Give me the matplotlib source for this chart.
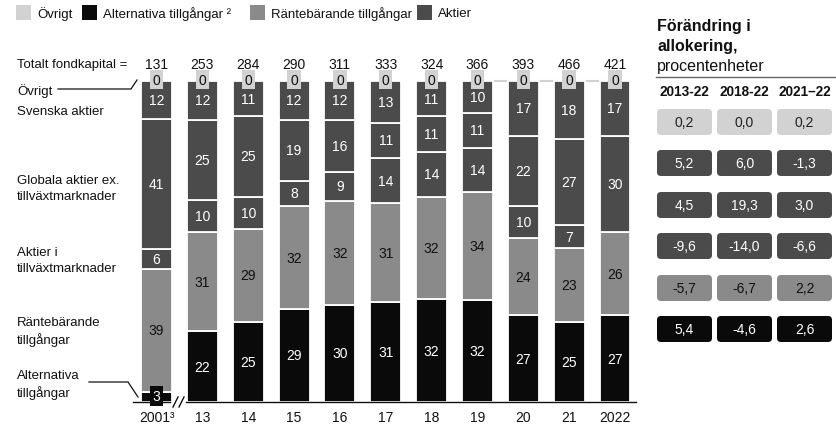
import matplotlib
matplotlib.use('Agg')
import matplotlib.pyplot as plt
from matplotlib.patches import FancyBboxPatch, Rectangle
import numpy as np

plt.rcParams['font.family'] = ['Liberation Sans', 'DejaVu Sans']

# ---------------- data ----------------
years = ['2001³', '13', '14', '15', '16', '17', '18', '19', '20', '21', '2022']
totals = [131, 253, 284, 290, 311, 333, 324, 366, 393, 466, 421]
alternativa = [3, 22, 25, 29, 30, 31, 32, 32, 27, 25, 27]
rantebarande = [39, 31, 29, 32, 32, 31, 32, 34, 24, 23, 26]
tillvaxt = [6, 10, 10, 8, 9, 14, 14, 14, 10, 7, 0]
globala = [41, 25, 25, 19, 16, 11, 11, 11, 22, 27, 30]
svenska = [12, 12, 11, 12, 12, 13, 11, 10, 17, 18, 17]
ovrigt = [0, 0, 0, 0, 0, 0, 0, 0, 0, 0, 0]

legend_labels = ['Övrigt', 'Alternativa tillgångar ²', 'Räntebärande tillgångar', 'Aktier']
left_labels = ['Övrigt', 'Svenska aktier', 'Globala aktier ex.\ntillväxtmarknader',
               'Aktier i\ntillväxtmarknader', 'Räntebärande\ntillgångar',
               'Alternativa\ntillgångar']

table_title = ['Förändring i', 'allokering,']
table_subtitle = 'procentenheter'
table_cols = ['2013-22', '2018-22', '2021–22']
chg_ovrigt = ['0,2', '0,0', '0,2']
chg_svenska = ['5,2', '6,0', '-1,3']
chg_globala = ['4,5', '19,3', '3,0']
chg_tillvaxt = ['-9,6', '-14,0', '-6,6']
chg_ranta = ['-5,7', '-6,7', '2,2']
chg_alt = ['5,4', '-4,6', '2,6']

# ---------------- styles ----------------
C_LIGHT = '#d2d2d2'
C_BLACK = '#0a0a0a'
C_GRAY = '#8a8a8a'
C_DARK = '#4b4b4b'
TXT = '#111111'
FS = 9.5

W, H = 836, 427
fig = plt.figure(figsize=(W / 100, H / 100), dpi=100)

# main bar axes (pixel placement)
px_left, px_right, px_top, px_base = 130, 640, 55, 403
x0px, dxpx = 156.5, 45.85
ypp = 3.21
ax = fig.add_axes([px_left / W, (H - px_base) / H, (px_right - px_left) / W, (px_base - px_top) / H])
ax.set_xlim((px_left - x0px) / dxpx, (px_right - x0px) / dxpx)
ax.set_ylim(0, (px_base - px_top) / ypp)
for s in ax.spines.values():
    s.set_visible(False)
ax.set_yticks([])
ax.set_xticks(range(len(years)), years)
ax.tick_params(axis='x', length=0, pad=6, labelsize=10, labelcolor=TXT)

x = np.arange(len(years))
series = [
    (alternativa, C_BLACK, 'white'),
    (rantebarande, C_GRAY, TXT),
    (tillvaxt, C_DARK, 'white'),
    (globala, C_DARK, 'white'),
    (svenska, C_DARK, 'white'),
]
sums = (np.array(alternativa) + np.array(rantebarande) + np.array(tillvaxt)
        + np.array(globala) + np.array(svenska) + np.array(ovrigt))
scale = 100.0 / sums
bw = 0.676

# connecting light line on top (later years)
ax.plot([7, 10], [100, 100], color=C_LIGHT, lw=1.5, zorder=0)

bottom = np.zeros(len(years))
for vals, col, tcol in series:
    v = np.array(vals) * scale
    ax.bar(x, v, bottom=bottom, width=bw, color=col, edgecolor='white', linewidth=1.3, zorder=2)
    for i, (raw, h, b) in enumerate(zip(vals, v, bottom)):
        if raw <= 0:
            continue
        if h < 5:
            ax.text(i, b + h / 2 + 0.3, str(raw), ha='center', va='center', color='white', fontsize=10,
                    zorder=4, bbox=dict(boxstyle='square,pad=0.2', fc=C_BLACK, ec='none'))
        else:
            ax.text(i, b + h / 2, str(raw), ha='center', va='center', color=tcol, fontsize=10, zorder=4)
    bottom = bottom + v

# Övrigt labels
for i, o in enumerate(ovrigt):
    ax.text(i, bottom[i] + 0.4, str(o), ha='center', va='center', color=TXT, fontsize=10, zorder=5,
            bbox=dict(boxstyle='square,pad=0.2', fc=C_LIGHT, ec='none'))

# totals
for i, t in enumerate(totals):
    ax.text(i, (px_base - 65) / ypp, str(t), ha='center', va='center', fontsize=10, color=TXT)

# ---------------- overlay axes (pixel coords) ----------------
ov = fig.add_axes([0, 0, 1, 1])
ov.set_xlim(0, W)
ov.set_ylim(H, 0)
ov.axis('off')

ov.text(127, 65, 'Totalt fondkapital =', ha='right', va='center', fontsize=FS, color=TXT)

# baseline with break
ov.plot([133, 170], [403, 403], color=TXT, lw=1.0)
ov.plot([186, 636], [403, 403], color=TXT, lw=1.0)
ov.plot([173, 178], [408, 398], color=TXT, lw=1.0)
ov.plot([179, 184], [408, 398], color=TXT, lw=1.0)

# left labels
label_y = [91, 112, 189, 261, 332, 385]
for lab, yy in zip(left_labels, label_y):
    ov.text(17, yy, lab, ha='left', va='center', fontsize=FS, color=TXT, linespacing=1.4)
# leader lines
ov.plot([58, 131, 137], [90, 90, 81], color=TXT, lw=0.9)
ov.plot([89, 128, 138], [383, 383, 398], color=TXT, lw=0.9)

# legend
leg_items = [(16, C_LIGHT, legend_labels[0]), (82, C_BLACK, legend_labels[1]),
             (250, C_GRAY, legend_labels[2]), (417, C_DARK, legend_labels[3])]
for lx, col, lab in leg_items:
    ov.add_patch(Rectangle((lx, 5.5), 15, 15, fc=col, ec='none'))
    ov.text(lx + 21, 14, lab, ha='left', va='center', fontsize=FS, color=TXT)

# table
ov.text(657, 27, table_title[0], ha='left', va='center', fontsize=11.5, fontweight='bold', color=TXT)
ov.text(657, 47, table_title[1], ha='left', va='center', fontsize=11.5, fontweight='bold', color=TXT)
ov.text(657, 66, table_subtitle, ha='left', va='center', fontsize=11.5, color=TXT)
ov.plot([656, 836], [78, 78], color='#666666', lw=1.0)
col_x = [684.5, 744.5, 805]
for cx, c in zip(col_x, table_cols):
    ov.text(cx, 92, c, ha='center', va='center', fontsize=9.8, fontweight='bold', color=TXT)

rows = [
    (chg_ovrigt, C_LIGHT, '#222222'),
    (chg_svenska, C_DARK, 'white'),
    (chg_globala, C_DARK, 'white'),
    (chg_tillvaxt, C_DARK, 'white'),
    (chg_ranta, C_GRAY, TXT),
    (chg_alt, C_BLACK, 'white'),
]
row_y = [123, 164, 206, 247, 289, 330]
bx = [657, 717, 777]
bwid = 55
bh = 26
for (vals, col, tcol), ry in zip(rows, row_y):
    for x_l, v in zip(bx, vals):
        ov.add_patch(FancyBboxPatch((x_l + 3, ry - bh / 2 + 3), bwid - 6, bh - 6,
                                    boxstyle='round,pad=3,rounding_size=4', fc=col, ec='none'))
        ov.text(x_l + bwid / 2, ry, v, ha='center', va='center', fontsize=10, color=tcol)

fig.savefig('out.png', dpi=100)
